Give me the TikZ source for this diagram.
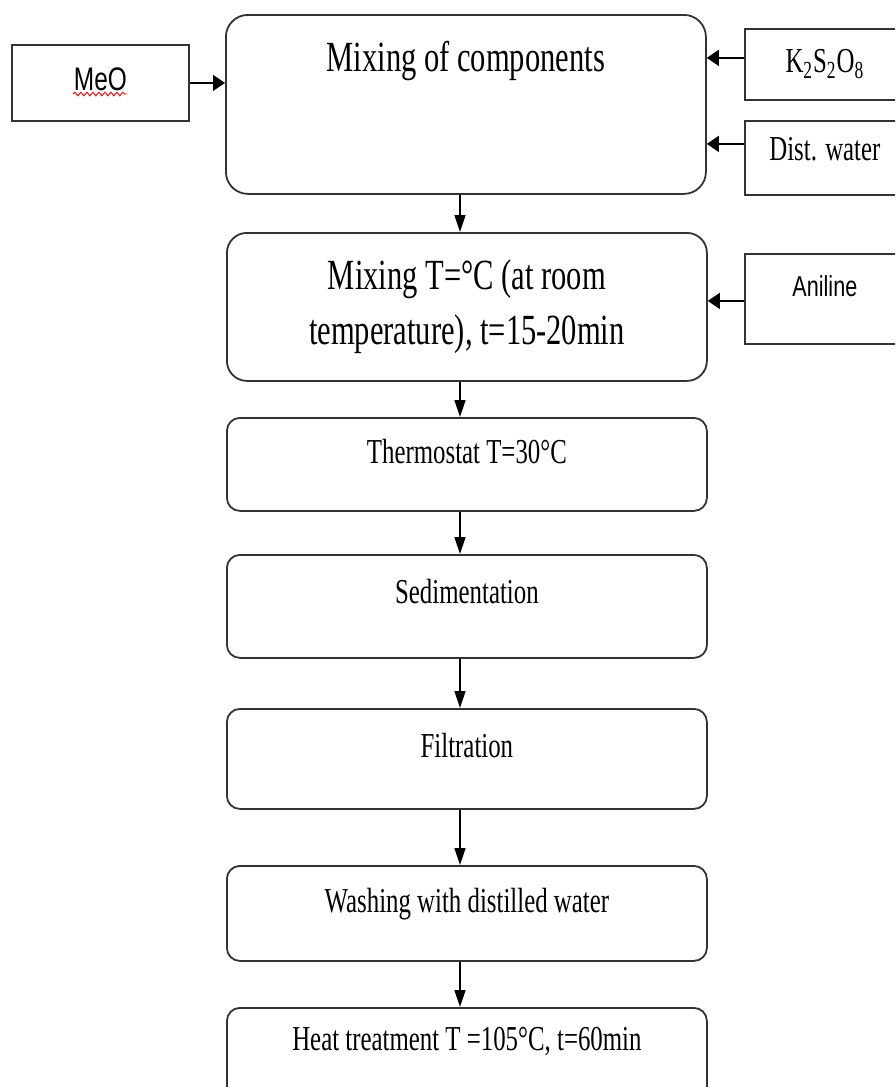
\documentclass[tikz,border=0pt]{standalone}
\usepackage{fontspec}
\setmainfont{Liberation Serif}[FakeStretch=0.71]
\newfontfamily\narrowsans{Liberation Sans}[FakeStretch=0.75]
\usepackage{tikz}
\usetikzlibrary{arrows.meta, positioning, decorations.pathmorphing}
\definecolor{cline}{HTML}{333333}
\newcommand{\bigtxt}{\fontsize{21.5}{27.5}\selectfont}
\newcommand{\smalltxt}{\fontsize{17.5}{21}\selectfont}

\begin{document}
\begin{tikzpicture}[
  x=0.5pt, y=-0.5pt,
  stage/.style={draw=cline, line width=0.9pt, rounded corners=6.5pt, anchor=north west,
                minimum width=240pt, inner sep=0pt, align=center, font=\smalltxt},
  feed/.style={draw=cline, line width=0.9pt, anchor=north west,
               minimum width=80pt, inner sep=0pt, font=\smalltxt},
  hflow/.style={-{Triangle[length=6pt,width=8pt]}, draw=black, line width=0.7pt},
  vflow/.style={-{Triangle[length=8.5pt,width=5.5pt]}, draw=black, line width=0.7pt}
]
\useasboundingbox (0,0) rectangle (895,1087);
\clip (0,0) rectangle (895,1087);
\node[stage, rounded corners=11pt, font=\bigtxt, text height=28.5pt, text depth=61pt]
  (mix) at (225,14) {Mixing of components};
\node[stage, rounded corners=10pt, font=\bigtxt, minimum height=74pt]
  (mixroom) at (226,232) {Mixing T=°C (at room\\temperature), t=15-20min};
\node[stage, text height=23pt, text depth=23.5pt]   (thermo) at (226,417)  {Thermostat T=30°C};
\node[stage, text height=24.5pt, text depth=27pt]   (sedim)  at (226,554)  {Sedimentation};
\node[stage, text height=24.5pt, text depth=25.5pt] (filtr)  at (226,708)  {Filtration};
\node[stage, text height=23.5pt, text depth=24pt]   (wash)   at (226,865)  {Washing with distilled water};
\node[stage, text height=21.5pt, text depth=40pt]   (heat)   at (226,1007) {Heat treatment T =105°C, t=60min};

\node[feed, minimum width=88.5pt, font=\narrowsans\fontsize{16.3}{19}\selectfont,
      text height=23pt, text depth=15pt] (meo) at (11,44) {MeO};
\node[feed, text height=22pt, text depth=13.5pt] (persulf) at (744,28)
  {K\textsubscript{2}S\textsubscript{2}O\textsubscript{8}};
\node[feed, text height=20pt, text depth=17pt] (water) at (744,120) {Dist. water};
\node[feed, font=\narrowsans\fontsize{14.4}{17}\selectfont,
      text height=21.5pt, text depth=23.5pt] (aniline) at (744,253) {Aniline};

\draw[red, line width=0.45pt, decorate, decoration={snake, amplitude=0.9pt, segment length=3pt}]
  (73,94) -- (127,94);

\coordinate (axis) at (460,0);
\draw[hflow] (meo) -- (meo -| mix.west);
\draw[hflow] ([yshift=3.25pt]persulf.west) -- ([yshift=3.25pt]persulf.west -| mix.east);
\draw[hflow] ([yshift=7pt]water.west) -- ([yshift=7pt]water.west -| mix.east);
\draw[hflow] ([yshift=-1pt]aniline.west) -- ([yshift=-1pt]aniline.west -| mixroom.east);
\draw[vflow] (mix.south -| axis)     -- (mixroom.north -| axis);
\draw[vflow] (mixroom.south -| axis) -- (thermo.north -| axis);
\draw[vflow] (thermo.south -| axis)  -- (sedim.north -| axis);
\draw[vflow] (sedim.south -| axis)   -- (filtr.north -| axis);
\draw[vflow] (filtr.south -| axis)   -- (wash.north -| axis);
\draw[vflow] (wash.south -| axis)    -- (heat.north -| axis);
\end{tikzpicture}
\end{document}
